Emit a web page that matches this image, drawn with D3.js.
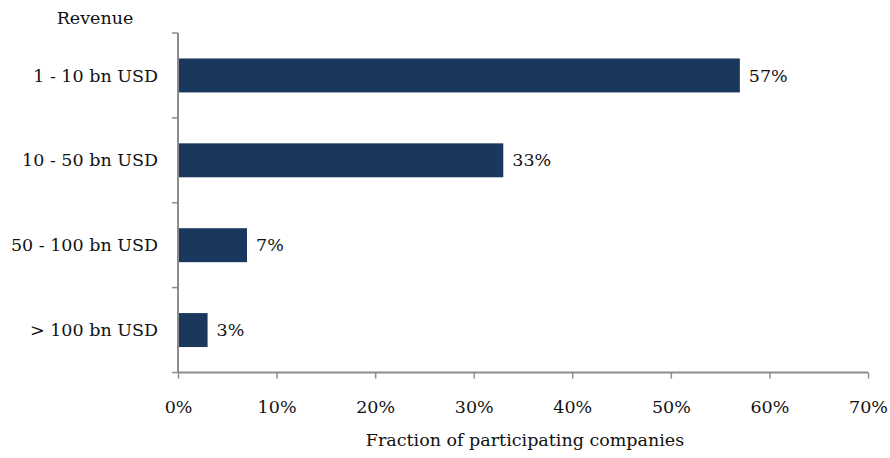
<!DOCTYPE html>
<html>
<head>
<meta charset="utf-8">
<script src="https://cdn.jsdelivr.net/npm/d3@7"></script>
<style>
  html, body { margin: 0; padding: 0; background: #fff; }
  svg { display: block; }
  text { font-family: "DejaVu Serif", serif; fill: #111; }
</style>
</head>
<body>
<svg id="chart" width="890" height="458"></svg>
<script>
// Revenue bands and share of participating companies (%)
const categories = ["1 - 10 bn USD", "10 - 50 bn USD", "50 - 100 bn USD", "> 100 bn USD"];
const shares = [57, 33, 7, 3];
const xTicks = [0, 10, 20, 30, 40, 50, 60, 70];

(function () {
  const svg = d3.select("#chart");
  const plotLeft = 178, plotRight = 868, plotTop = 33, plotBottom = 372.5;
  const fontSize = 17.5;
  const axisColor = "#8c8c8c";
  const barColor = "#1a385e";

  const x = d3.scaleLinear().domain([0, 70]).range([plotLeft, plotRight]);
  const y = d3.scaleBand().domain(categories).range([plotTop, plotBottom]).paddingInner(0.6).paddingOuter(0.3);
  const yBand = d3.scaleBand().domain(categories).range([plotTop, plotBottom]);

  // bars
  svg.append("g").selectAll("rect")
    .data(categories)
    .join("rect")
    .attr("x", x(0))
    .attr("y", d => y(d))
    .attr("width", (d, i) => x(shares[i]) - x(0))
    .attr("height", y.bandwidth())
    .attr("fill", barColor);

  // value labels
  svg.append("g").selectAll("text")
    .data(categories)
    .join("text")
    .attr("x", (d, i) => x(shares[i]) + 9)
    .attr("y", d => y(d) + y.bandwidth() / 2)
    .attr("dy", "0.35em")
    .style("font-size", fontSize + "px")
    .text((d, i) => shares[i] + "%");

  // x axis
  const xAxis = svg.append("g")
    .attr("transform", `translate(0,${plotBottom})`)
    .call(d3.axisBottom(x).tickValues(xTicks).tickFormat(d => d + "%").tickSize(6).tickPadding(22));
  xAxis.select(".domain").attr("stroke", axisColor).attr("stroke-width", 2).attr("d", `M${plotLeft},0H${plotRight}`);
  xAxis.selectAll(".tick line").attr("stroke", axisColor).attr("stroke-width", 1.5);
  xAxis.selectAll(".tick text").style("font-size", fontSize + "px").attr("fill", "#111");
  xAxis.attr("font-family", null).attr("font-size", null);

  // y axis: ticks sit on band boundaries
  const yAxis = svg.append("g").attr("transform", `translate(${plotLeft},0)`);
  yAxis.append("path")
    .attr("d", `M0,${plotTop}V${plotBottom}`)
    .attr("stroke", axisColor).attr("stroke-width", 2).attr("fill", "none");
  const boundaries = categories.map(c => yBand(c)).concat([plotBottom]);
  yAxis.selectAll("line.tk").data(boundaries).join("line")
    .attr("class", "tk")
    .attr("x1", -6).attr("x2", 0)
    .attr("y1", d => d).attr("y2", d => d)
    .attr("stroke", axisColor).attr("stroke-width", 1.5);
  yAxis.selectAll("text.cat").data(categories).join("text")
    .attr("class", "cat")
    .attr("x", -20)
    .attr("y", d => yBand(d) + yBand.bandwidth() / 2)
    .attr("dy", "0.35em")
    .attr("text-anchor", "end")
    .style("font-size", fontSize + "px")
    .text(d => d);

  // axis titles
  svg.append("text")
    .attr("x", 95).attr("y", 18).attr("dy", "0.35em")
    .attr("text-anchor", "middle")
    .style("font-size", fontSize + "px")
    .text("Revenue");
  svg.append("text")
    .attr("x", 525).attr("y", 440).attr("dy", "0.35em")
    .attr("text-anchor", "middle")
    .style("font-size", fontSize + "px")
    .text("Fraction of participating companies");
})();
</script>
</body>
</html>
